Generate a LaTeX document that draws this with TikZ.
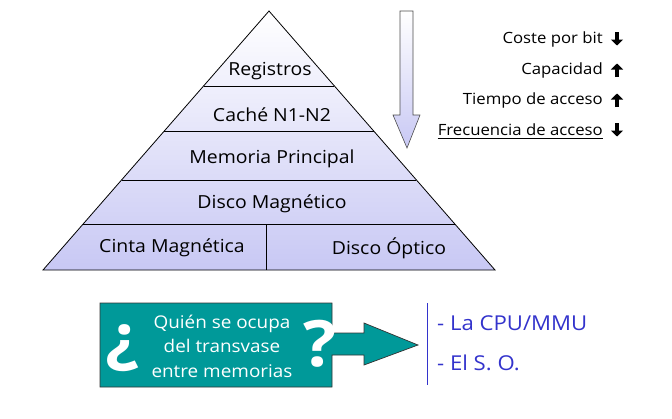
\documentclass[tikz,border=0pt]{standalone}
\usepackage{fontspec}
\usetikzlibrary{calc,arrows.meta}
\setmainfont{Open Sans}[FakeStretch=1.08]
\definecolor{lav}{HTML}{C8C8F4}
\definecolor{tealbox}{HTML}{009999}
\definecolor{ansblue}{HTML}{3333CC}
\begin{document}
\begin{tikzpicture}[x=1pt,y=-1pt,
  band/.style={font=\fontsize{18}{21}\selectfont, inner sep=0pt},
  side/.style={font=\fontsize{15.5}{18}\selectfont, anchor=east, inner sep=0pt},
  updown/.style={line width=3.4pt, -{Triangle[length=6pt,width=12pt]}},
  qtext/.style={font=\fontsize{17.5}{24.5}\selectfont, text=white, align=center, inner sep=0pt},
  bigq/.style={font=\bfseries\fontsize{64}{64}\selectfont, text=white, inner sep=0pt},
  ans/.style={font=\fontsize{20.5}{24}\selectfont, text=ansblue, anchor=west, inner sep=0pt}]
\useasboundingbox (0,0) rectangle (672,418);
% pyramid
\coordinate (apex) at (269,11);
\coordinate (bl) at (43,270);
\coordinate (br) at (495,270);
\shade[top color=white, bottom color=lav] (apex) -- (br) -- (bl) -- cycle;
\draw[line width=0.8pt] (apex) -- (br) -- (bl) -- cycle;
\foreach \y/\n in {86/a,131/b,180/c,224/d}{
  \pgfmathsetmacro{\dx}{0.8726*(\y-11)}
  \draw[line width=0.8pt] (269-\dx,\y) -- (269+\dx,\y);
}
\draw[line width=0.8pt] (266,224) -- (266,270);
\node[band] (reg) at (270,71) {Registros};
\node[band] (cache) at (272,115) {Caché N1-N2};
\node[band] (mp) at (272,159) {Memoria Principal};
\node[band] (dm) at (272,204) {Disco Magnético};
\node[band] (cm) at (172,248) {Cinta Magnética};
\node[band] (do) at (389,248) {Disco Óptico};
% down arrow
\shade[top color=white, bottom color=lav]
  (400,11) -- (413,11) -- (413,115) -- (420,115) -- (407,148) -- (393,115) -- (400,115) -- cycle;
\draw[black!70, line width=0.6pt]
  (400,11) -- (413,11) -- (413,115) -- (420,115) -- (407,148) -- (393,115) -- (400,115) -- cycle;
% side texts
\node[side] (t1) at (603,39) {Coste por bit};
\node[side] (t2) at (603,70) {Capacidad};
\node[side] (t3) at (603,100) {Tiempo de acceso};
\node[side] (t4) at (603,130) {Frecuencia de acceso};
\coordinate (a1) at (617,39);
\coordinate (a2) at (617,70);
\coordinate (a3) at (617,100);
\coordinate (a4) at (617,130);
\draw[updown] ($(a1)+(0,-7)$) -- ($(a1)+(0,6.5)$);
\draw[updown] ($(a2)+(0,7)$) -- ($(a2)+(0,-6.5)$);
\draw[updown] ($(a3)+(0,7)$) -- ($(a3)+(0,-6.5)$);
\draw[updown] ($(a4)+(0,-7)$) -- ($(a4)+(0,6.5)$);
\draw[line width=1pt] ($(t4.south west)+(0,2.5)$) -- ($(t4.south east)+(0,2.5)$);
% question box
\draw[fill=tealbox, draw=black!80, line width=0.7pt]
  (100,303) -- (332,303) -- (332,333) -- (364,333) -- (364,323) -- (418,345)
  -- (364,365) -- (364,355) -- (332,355) -- (332,387) -- (100,387) -- cycle;
\node[bigq] (q1) at (122,348) {¿};
\node[bigq] (q2) at (320,344) {?};
\node[qtext] (qt) at (222,346) {Quién se ocupa\\del transvase\\entre memorias};
% answers
\draw[ansblue, line width=1pt] (427,303) -- (427,385);
\node[ans] (r1) at (437,323) {- La CPU/MMU};
\node[ans] (r2) at (437,363) {- El S. O.};
\end{tikzpicture}
\end{document}
